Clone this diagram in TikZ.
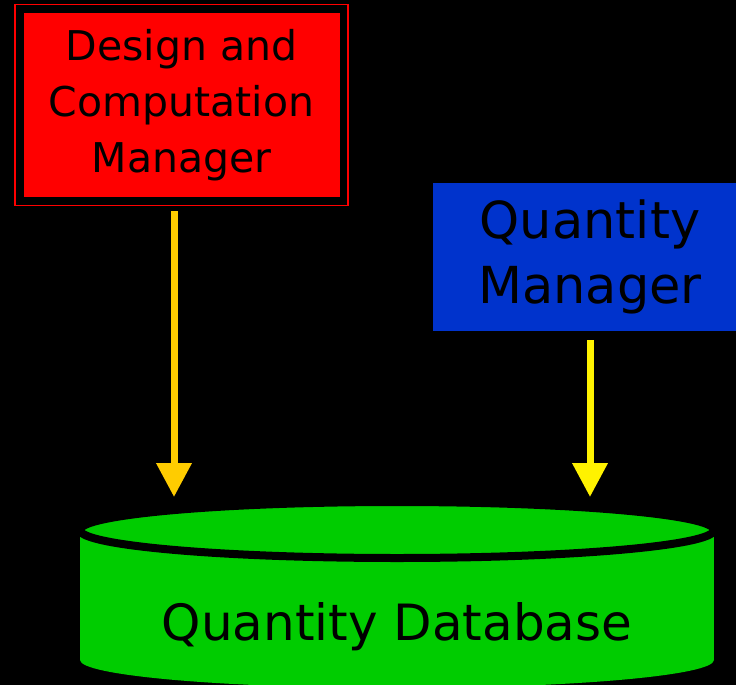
\documentclass[tikz,border=0pt]{standalone}
\usepackage{fontspec}
\setmainfont{DejaVu Sans}
\usetikzlibrary{arrows.meta}

\definecolor{dbgreen}{HTML}{00CC00}
\definecolor{qmblue}{HTML}{0033CC}
\definecolor{flowamber}{HTML}{FFCC00}

\tikzset{
  manager/.style={rectangle, inner sep=0pt, align=center, text=black},
  feed/.style={line width=7pt, -{Triangle[width=34pt,length=34pt]}, shorten >=5pt},
}

\begin{document}
\begin{tikzpicture}[x=1pt,y=-1pt]
        \useasboundingbox (0,0) rectangle (736,685);
        \fill[black] (0,0) rectangle (736,685);
        \clip (0,0) rectangle (736,685);

        \node[manager, fill=red, draw=black, line width=7pt, minimum width=323pt, minimum height=191pt,
              font=\fontsize{41}{56}\selectfont] (dcm) at (181.5,105) {Design and\\Computation\\Manager};
        \draw[red, line width=1.5pt] ([xshift=-1.5pt,yshift=1.5pt]dcm.north west) rectangle ([xshift=1.5pt,yshift=-1.5pt]dcm.south east);

        \node[manager, fill=qmblue, minimum width=314pt, minimum height=148pt,
              font=\fontsize{51}{65}\selectfont] (qm) at (590,257) {Quantity\\Manager};

        % database drum
        \fill[dbgreen] (80,530) rectangle (714,660);
        \fill[dbgreen] (397,660) ellipse[x radius=317, y radius=28];
        \filldraw[fill=dbgreen, draw=black, line width=8pt] (397,530) ellipse[x radius=317, y radius=28];
        \coordinate (dbtop) at (397,502);
        \node[font=\fontsize{50}{60}\selectfont] (qdb) at (397,627) {Quantity Database};

        \path ([xshift=-7.5pt,yshift=-7pt]dcm.south) coordinate (dcmout);
        \path ([yshift=-9pt]qm.south) coordinate (qmout);
        \draw[feed, flowamber] (dcmout) -- (dcmout |- dbtop);
        \draw[feed, yellow] (qmout) -- (qmout |- dbtop);

\end{tikzpicture}
\end{document}
